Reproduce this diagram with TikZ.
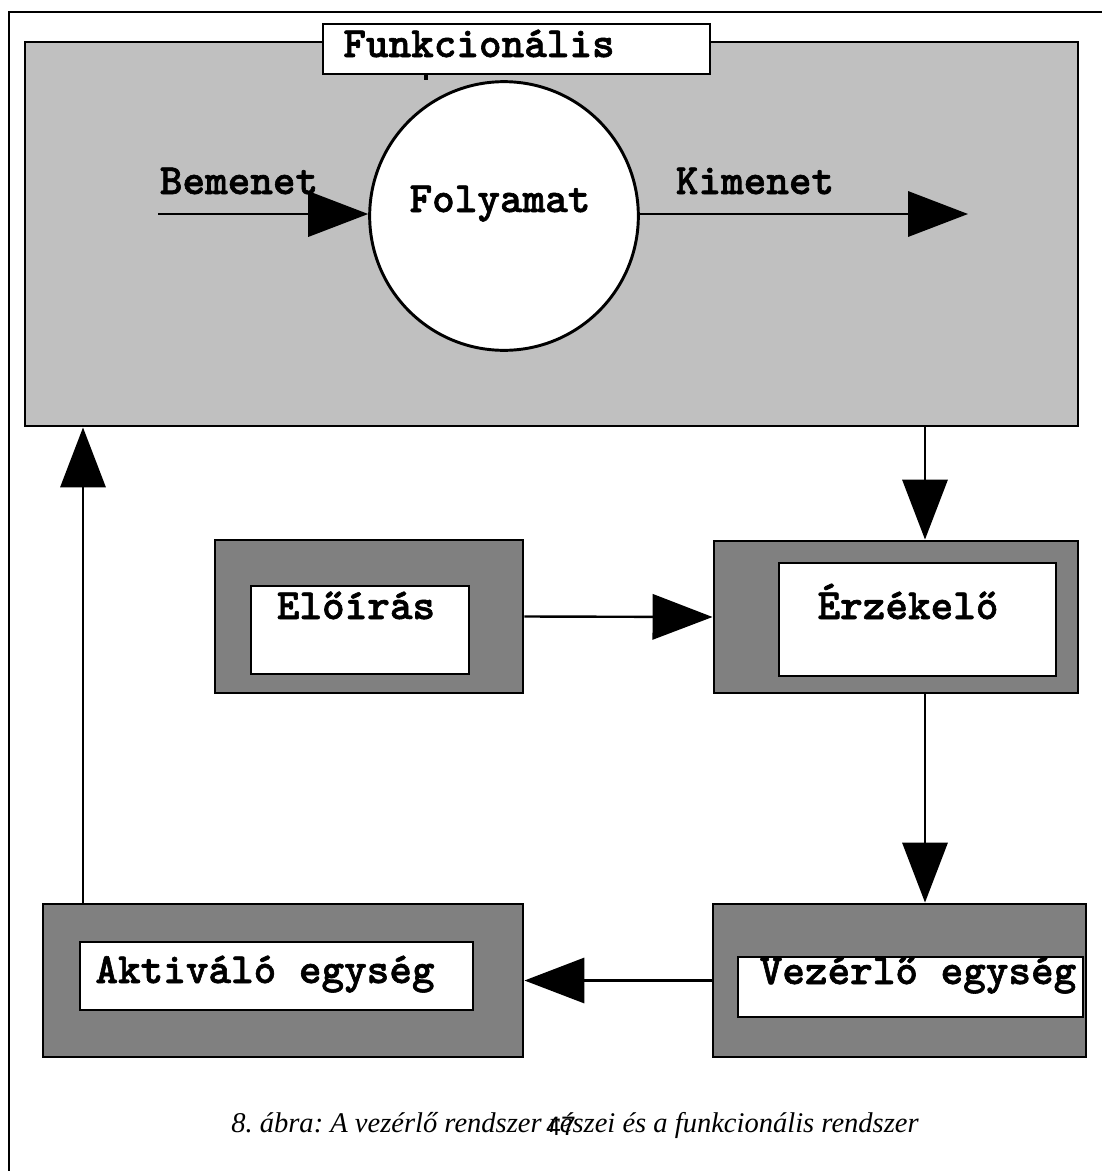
\documentclass[tikz,border=0pt]{standalone}
\usepackage{fontspec}
\setmainfont{Liberation Serif}
\newfontfamily\numfont{Liberation Sans}
\newfontfamily\lblfont{lmmonolt10-bold.otf}[FakeBold=1.4]
\usetikzlibrary{arrows.meta,fit}

\definecolor{funcgray}{HTML}{C0C0C0}
\definecolor{unitgray}{HTML}{808080}

\tikzset{
  frameline/.style={line width=2.2pt},
  funcbox/.style={draw, line width=2.2pt, fill=funcgray, inner sep=0pt},
  unitbox/.style={draw, line width=2.2pt, fill=unitgray, inner sep=0pt},
  namebox/.style={draw, line width=2.2pt, fill=white, inner sep=0pt},
  procnode/.style={draw, line width=2.2pt, fill=white, circle, inner sep=0pt, minimum size=201.5pt},
  lbl/.style={font=\lblfont\fontsize{32.3pt}{34pt}\selectfont, anchor=base, inner sep=0pt},
  conn/.style={line width=1.8pt, -{Triangle[length=45pt,width=34pt]}},
}

\begin{document}
\frenchspacing
\begin{tikzpicture}[x=0.75pt, y=-0.75pt]
  \useasboundingbox (0,0) rectangle (1102,1171);
  \clip (0,0) rectangle (1102,1171);
  \fill[white] (0,0) rectangle (1102,1171);

  % page frame, open towards the right and bottom edges
  \draw[frameline] (9,1190) -- (9,12) -- (1120,12);

  % functional system
  \node[funcbox, fit={(25,42) (1078,426)}] (func) {};
  \node[namebox, fit={(323,24) (710,74)}] (functitle) {};
  \node[lbl] (functext) at (479,57) {Funkcionális};
  \fill (424,74) rectangle (428,80);

  \node[procnode] (proc) at (504,216) {};
  \node[lbl] (proctext) at (500,212) {Folyamat};

  \coordinate (in) at (158,214);
  \coordinate (out) at (968,214);
  \node[lbl] (intext) at (239,194) {Bemenet};
  \node[lbl] (outtext) at (755,194) {Kimenet};
  \draw[conn] (in) -- (in -| proc.west);
  \draw[conn] (out -| proc.east) -- (out);

  % control units
  \node[unitbox, fit={(215,540) (523,693)}] (pre) {};
  \node[namebox, fit={(251,586) (469,674)}] (preinner) {};
  \node[lbl] (pretext) at (356,619) {Előírás};

  \node[unitbox, fit={(714,541) (1078,693)}] (sense) {};
  \node[namebox, fit={(779,563) (1056,676)}] (senseinner) {};
  \node[lbl] (sensetext) at (908,619) {Érzékelő};

  \node[unitbox, fit={(713,904) (1086,1057)}] (ctrl) {};
  \node[namebox, fit={(738,957) (1083,1017)}] (ctrlinner) {};
  \node[lbl] (ctrltext) at (918,984) {Vezérlő egység};

  \node[unitbox, fit={(43,904) (523,1057)}] (act) {};
  \node[namebox, fit={(80,942) (473,1010)}] (actinner) {};
  \node[lbl] (acttext) at (265,983) {Aktiváló egység};

  % signal flow
  \coordinate (rx) at (925,0);
  \coordinate (lx) at (83,0);
  \draw[conn] (func.south -| rx) -- (sense.north -| rx);
  \draw[conn] (pre.east) -- (sense.west);
  \draw[conn] (sense.south -| rx) -- (ctrl.north -| rx);
  \draw[conn] (ctrl.west) -- (act.east);
  \draw[conn] (act.north -| lx) -- (func.south -| lx);

  % caption and page number
  \node[anchor=base, inner sep=0pt, font=\itshape\fontsize{21.4pt}{24pt}\selectfont] (caption) at (575,1132)
    {8. ábra: A vezérlő rendszer részei és a funkcionális rendszer};
  \node[anchor=base, inner sep=0pt, font=\numfont\fontsize{20pt}{24pt}\selectfont] (pagenum) at (561,1135) {47};
\end{tikzpicture}
\end{document}
